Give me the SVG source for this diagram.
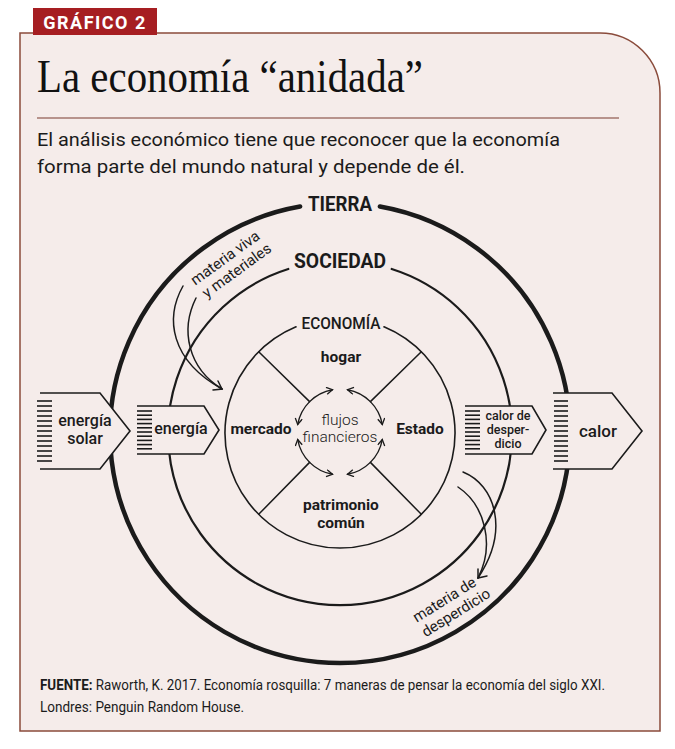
<svg xmlns="http://www.w3.org/2000/svg" width="675" height="749" viewBox="0 0 675 749">
<style>
.sans{font-family:Roboto,"Liberation Sans",sans-serif;fill:#1b1b1b}
.b{font-weight:700}
.m{font-weight:500}
.l{font-weight:300}
.ln{fill:none;stroke:#1b1b1b;stroke-linecap:round}
.box{fill:#f5ecea;stroke:#1b1b1b;stroke-width:1.6;stroke-linejoin:miter}
.hatch{stroke:#1b1b1b;stroke-width:1.6}
</style>
<defs>
<marker id="ah" markerUnits="userSpaceOnUse" markerWidth="10" markerHeight="10" refX="7" refY="4" orient="auto-start-reverse">
<path d="M1,0.5 L7,4 L1,7.5" fill="none" stroke="#1b1b1b" stroke-width="1.3"/>
</marker>
</defs>
<rect x="0" y="0" width="675" height="749" fill="#ffffff"/>
<path d="M20,33 H600 A60,60 0 0 1 660,93 V731 H20 Z" fill="#f5ecea" stroke="#8a4b3b" stroke-width="1.5"/>
<g id="badge">
<rect x="33" y="8" width="124" height="27" fill="#a61e22"/>
<text x="95" y="29" text-anchor="middle" font-family="Roboto,'Liberation Sans',sans-serif" font-weight="700" font-size="18" letter-spacing="1.5" fill="#ffffff">GRÁFICO 2</text>
</g>
<text x="37" y="92" font-family="'Liberation Serif','DejaVu Serif',serif" font-size="46" fill="#111" textLength="386" lengthAdjust="spacingAndGlyphs">La economía “anidada”</text>
<line x1="37" y1="118" x2="619" y2="118" stroke="#7a3a2e" stroke-width="1.2"/>
<text class="sans" x="37" y="146" font-size="19" textLength="523" lengthAdjust="spacingAndGlyphs">El análisis económico tiene que reconocer que la economía</text>
<text class="sans" x="37" y="173" font-size="19" textLength="428" lengthAdjust="spacingAndGlyphs">forma parte del mundo natural y depende de él.</text>

<g id="tierra">
<path class="ln" d="M379.9,206.5 A230,230 0 1 1 300.1,206.5" stroke-width="4.5"/>
<text class="sans b" x="340" y="211" font-size="20" text-anchor="middle" textLength="64" lengthAdjust="spacingAndGlyphs">TIERRA</text>
</g>
<g id="sociedad">
<path class="ln" d="M391.7,269 A172,172 0 1 1 288.3,269" stroke-width="2.2"/>
<text class="sans b" x="340" y="268" font-size="20" text-anchor="middle" textLength="92" lengthAdjust="spacingAndGlyphs">SOCIEDAD</text>
</g>
<g id="economia">
<path class="ln" d="M384,326.8 A115,115 0 1 1 296,326.8" stroke-width="1.6"/>
<text class="sans m" x="341" y="329" font-size="17" text-anchor="middle" textLength="79" lengthAdjust="spacingAndGlyphs">ECONOMÍA</text>
<line class="ln" x1="258.7" y1="351.7" x2="309.6" y2="401.6" stroke-width="1.5"/>
<line class="ln" x1="421.3" y1="351.7" x2="370.4" y2="401.6" stroke-width="1.5"/>
<line class="ln" x1="258.7" y1="514.3" x2="309.6" y2="462.4" stroke-width="1.5"/>
<line class="ln" x1="421.3" y1="514.3" x2="370.4" y2="462.4" stroke-width="1.5"/>
</g>
<g id="hogar"><text class="sans b" x="341" y="362" font-size="15.5" text-anchor="middle">hogar</text></g>
<g id="mercado"><text class="sans b" x="261" y="434" font-size="15.5" text-anchor="middle">mercado</text></g>
<g id="estado"><text class="sans b" x="420" y="434" font-size="15.5" text-anchor="middle">Estado</text></g>
<g id="patrimonio"><text class="sans b" x="341" y="510" font-size="15.5" text-anchor="middle">patrimonio<tspan x="341" y="528">común</tspan></text></g>
<g id="flujos"><text class="sans l" x="340" y="425" font-size="15.5" text-anchor="middle">flujos<tspan x="340" y="442">financieros</tspan></text></g>

<g id="energia-solar">
<path class="box" d="M40,393 H100 L130,431 L100,469 H40"/>
<g class="hatch">
<line x1="37" y1="401" x2="52" y2="401"/><line x1="37" y1="406" x2="52" y2="406"/><line x1="37" y1="411" x2="52" y2="411"/><line x1="37" y1="416" x2="52" y2="416"/><line x1="37" y1="421" x2="52" y2="421"/><line x1="37" y1="426" x2="52" y2="426"/><line x1="37" y1="431" x2="52" y2="431"/><line x1="37" y1="436" x2="52" y2="436"/><line x1="37" y1="441" x2="52" y2="441"/><line x1="37" y1="446" x2="52" y2="446"/><line x1="37" y1="451" x2="52" y2="451"/><line x1="37" y1="456" x2="52" y2="456"/><line x1="37" y1="461" x2="52" y2="461"/>
</g>
<text class="sans m" x="85" y="426" font-size="16" text-anchor="middle">energía<tspan x="85" y="444">solar</tspan></text>
</g>
<g id="energia">
<path class="box" d="M137,406 H204 L219,430 L204,454 H137"/>
<g class="hatch">
<line x1="137" y1="411" x2="152" y2="411"/><line x1="137" y1="415.2" x2="152" y2="415.2"/><line x1="137" y1="419.4" x2="152" y2="419.4"/><line x1="137" y1="423.6" x2="152" y2="423.6"/><line x1="137" y1="427.8" x2="152" y2="427.8"/><line x1="137" y1="432" x2="152" y2="432"/><line x1="137" y1="436.2" x2="152" y2="436.2"/><line x1="137" y1="440.4" x2="152" y2="440.4"/><line x1="137" y1="444.6" x2="152" y2="444.6"/><line x1="137" y1="448.8" x2="152" y2="448.8"/>
</g>
<text class="sans m" x="181" y="434" font-size="16" text-anchor="middle">energía</text>
</g>
<g id="calor-desperdicio">
<path class="box" d="M465,406 H532 L546,430 L532,454 H465"/>
<g class="hatch">
<line x1="465" y1="411" x2="480" y2="411"/><line x1="465" y1="415.2" x2="480" y2="415.2"/><line x1="465" y1="419.4" x2="480" y2="419.4"/><line x1="465" y1="423.6" x2="480" y2="423.6"/><line x1="465" y1="427.8" x2="480" y2="427.8"/><line x1="465" y1="432" x2="480" y2="432"/><line x1="465" y1="436.2" x2="480" y2="436.2"/><line x1="465" y1="440.4" x2="480" y2="440.4"/><line x1="465" y1="444.6" x2="480" y2="444.6"/><line x1="465" y1="448.8" x2="480" y2="448.8"/>
</g>
<text class="sans m" x="508" y="420" font-size="12.5" text-anchor="middle">calor de<tspan x="508" y="434">desper-</tspan><tspan x="508" y="448">dicio</tspan></text>
</g>
<g id="calor">
<path class="box" d="M553,393 H612 L642,431 L612,469 H553"/>
<g class="hatch">
<line x1="554" y1="401" x2="568" y2="401"/><line x1="554" y1="406" x2="568" y2="406"/><line x1="554" y1="411" x2="568" y2="411"/><line x1="554" y1="416" x2="568" y2="416"/><line x1="554" y1="421" x2="568" y2="421"/><line x1="554" y1="426" x2="568" y2="426"/><line x1="554" y1="431" x2="568" y2="431"/><line x1="554" y1="436" x2="568" y2="436"/><line x1="554" y1="441" x2="568" y2="441"/><line x1="554" y1="446" x2="568" y2="446"/><line x1="554" y1="451" x2="568" y2="451"/><line x1="554" y1="456" x2="568" y2="456"/><line x1="554" y1="461" x2="568" y2="461"/>
</g>
<text class="sans m" x="598" y="437" font-size="17" text-anchor="middle">calor</text>
</g>

<g id="connectors">
<path class="ln" d="M347.5,389.7 A43,43 0 0 1 382.3,424.5" stroke-width="1.4" marker-start="url(#ah)" marker-end="url(#ah)"/>
<path class="ln" d="M382.3,439.5 A43,43 0 0 1 347.5,474.3" stroke-width="1.4" marker-start="url(#ah)" marker-end="url(#ah)"/>
<path class="ln" d="M332.5,474.3 A43,43 0 0 1 297.7,439.5" stroke-width="1.4" marker-start="url(#ah)" marker-end="url(#ah)"/>
<path class="ln" d="M297.7,424.5 A43,43 0 0 1 332.5,389.7" stroke-width="1.4" marker-start="url(#ah)" marker-end="url(#ah)"/>
<g id="materia-viva">
<path class="ln" d="M183,286 C165,318 170,360 222,389" stroke-width="1.5"/>
<path class="ln" d="M196,298 C180,330 188,368 222,389" stroke-width="1.5"/>
<path class="ln" d="M218,381 L222,389 L213,390" stroke-width="1.5"/>
</g>
<g id="materia-desperdicio">
<path class="ln" d="M463,472 C495,485 510,530 478,578" stroke-width="1.5"/>
<path class="ln" d="M458,487 C485,505 495,545 478,578" stroke-width="1.5"/>
<path class="ln" d="M478,569 L478,578 L487,576" stroke-width="1.5"/>
</g>
</g>
<text class="sans" font-size="15" transform="translate(228,262) rotate(-36)" text-anchor="middle">materia viva<tspan x="2" y="17">y materiales</tspan></text>
<text class="sans" font-size="15" transform="translate(447,604) rotate(-32)" text-anchor="middle">materia de<tspan x="3" y="17">desperdicio</tspan></text>

<text class="sans" x="40" y="690" font-size="14" textLength="565" lengthAdjust="spacingAndGlyphs"><tspan font-weight="700">FUENTE:</tspan> Raworth, K. 2017. Economía rosquilla: 7 maneras de pensar la economía del siglo XXI.</text>
<text class="sans" x="40" y="712" font-size="14" textLength="204" lengthAdjust="spacingAndGlyphs">Londres: Penguin Random House.</text>
</svg>
